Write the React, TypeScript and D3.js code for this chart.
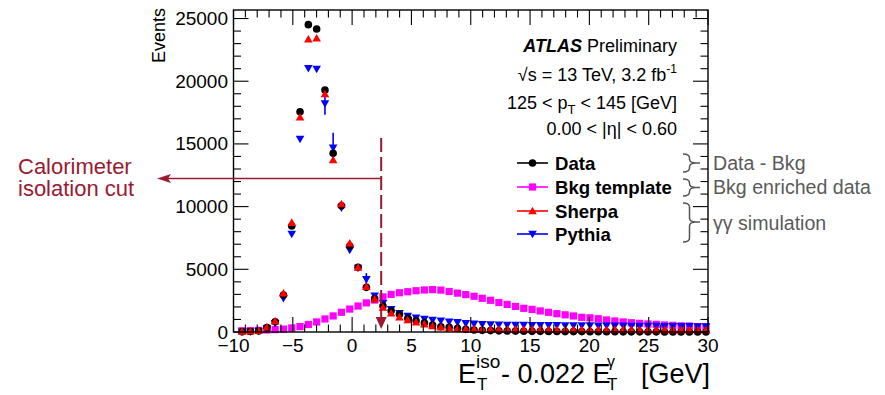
import React from "react";
import * as d3 from "d3";

// ---------- data ----------
const binCenters = [
  -9.28, -8.58, -7.88, -7.18, -6.49, -5.79, -5.09, -4.39, -3.69, -2.99,
  -2.29, -1.6, -0.9, -0.2, 0.5, 1.2, 1.9, 2.6, 3.29, 3.99,
  4.69, 5.39, 6.09, 6.78, 7.48, 8.18, 8.88, 9.58, 10.28, 10.97,
  11.67, 12.37, 13.07, 13.77, 14.47, 15.17, 15.86, 16.56, 17.26, 17.96,
  18.66, 19.36, 20.05, 20.75, 21.45, 22.15, 22.85, 23.54, 24.24, 24.94,
  25.64, 26.34, 27.04, 27.73, 28.43, 29.13, 29.83,
];

const dataValues = [
  20, 40, 80, 350, 820, 2950, 8450, 17570, 24510, 24160,
  19300, 14250, 10070, 6860, 5160, 3560, 2650, 2070, 1700, 1410,
  1090, 900, 740, 560, 420, 370, 290, 210, 160, 130,
  110, 90, 80, 70, 60, 50, 50, 40, 40, 30,
  30, 30, 20, 20, 20, 20, 10, 10, 10, 10,
  10, 0, 0, 0, 0, 0, 0,
];

const bkgValues = [
  100, 110, 130, 160, 190, 230, 320, 430, 600, 800,
  1040, 1280, 1570, 1830, 2070, 2320, 2550, 2800, 3000, 3130,
  3210, 3290, 3350, 3380, 3340, 3230, 3100, 2980, 2850, 2690,
  2530, 2350, 2200, 2040, 1890, 1800, 1680, 1570, 1460, 1370,
  1280, 1170, 1130, 1060, 960, 880, 800, 740, 690, 640,
  610, 560, 530, 490, 480, 430, 420,
];

const sherpaValues = [
  30, 50, 100, 380, 850, 3080, 8720, 17120, 23340, 23420,
  18980, 13720, 10200, 7070, 5150, 3610, 2600, 1950, 1490, 1170,
  960, 770, 610, 480, 370, 320, 260, 220, 210, 210,
  200, 200, 200, 200, 190, 190, 190, 190, 180, 180,
  180, 180, 180, 170, 170, 170, 170, 170, 160, 160,
  160, 160, 160, 160, 150, 150, 150,
];

const pythiaValues = [
  20, 40, 90, 300, 700, 2690, 7810, 15390, 21030, 20970,
  18230, 14700, 9910, 6540, 5100, 4200, 2900, 2290, 1810, 1490,
  1280, 1140, 1040, 960, 900, 820, 770, 690, 650, 620,
  600, 580, 570, 560, 560, 550, 550, 540, 540, 530,
  530, 520, 520, 510, 510, 500, 500, 490, 490, 480,
  480, 470, 470, 460, 460, 450, 450,
];

// Pythia statistical errors (only the visibly large ones)
const pythiaErrBins = [10, 11, 15];
const pythiaErrValues = [900, 1200, 500];

const xTicks = [-10, -5, 0, 5, 10, 15, 20, 25, 30];
const xTickLabels = ["\u221210", "\u22125", "0", "5", "10", "15", "20", "25", "30"];
const yTicks = [0, 5000, 10000, 15000, 20000, 25000];
const yTickLabels = ["0", "5000", "10000", "15000", "20000", "25000"];

const legendLabels = ["Data", "Bkg template", "Sherpa", "Pythia"];
const legendColors = ["#000000", "#ff00ff", "#ff0000", "#0000ff"];
const legendMarkers = ["circle", "square", "up", "down"];

const groupLabels = ["Data - Bkg", "Bkg enriched data", "\u03b3\u03b3 simulation"];

const cutValue = 2.45;

// ---------- layout ----------
const W = 885;
const H = 395;
const L = 233.5;
const R = 708;
const T = 10;
const B = 332;
const FONT = "'Liberation Sans', Arial, Helvetica, sans-serif";
const CUT_COLOR = "#9a1a32";

const x = d3.scaleLinear().domain([-10, 30]).range([L, R]);
const y = d3.scaleLinear().domain([0, 25680]).range([B, T]);

function Marker({ type, cx, cy, color }: { type: string; cx: number; cy: number; color: string }) {
  if (type === "circle") return <circle cx={cx} cy={cy} r={3.8} fill={color} />;
  if (type === "square") return <rect x={cx - 3.6} y={cy - 3.6} width={7.2} height={7.2} fill={color} />;
  const s = 4.3;
  if (type === "up") {
    return <path d={`M${cx},${cy - s}L${cx + s},${cy + s * 0.75}L${cx - s},${cy + s * 0.75}Z`} fill={color} />;
  }
  return <path d={`M${cx},${cy + s}L${cx + s},${cy - s * 0.75}L${cx - s},${cy - s * 0.75}Z`} fill={color} />;
}

function bracePath(x0: number, y1: number, y2: number, ym: number, w: number) {
  const xm = x0 + w / 2;
  const r = Math.min(4, (y2 - y1) / 4);
  return `M${x0},${y1} Q${xm},${y1} ${xm},${y1 + r} L${xm},${ym - r} Q${xm},${ym} ${x0 + w},${ym} Q${xm},${ym} ${xm},${ym + r} L${xm},${y2 - r} Q${xm},${y2} ${x0},${y2} M${x0 + w},${ym} L${x0 + w + 4},${ym}`;
}

export default function App() {
  const minorX = d3.range(-10, 31, 1);
  const minorY = d3.range(0, 25001, 1000);

  const legendRows = [163, 187, 211, 234];
  const braces = [
    { y1: 154, y2: 172, ym: 163 },
    { y1: 179, y2: 196, ym: 187.5 },
    { y1: 203, y2: 242, ym: 222 },
  ];
  const groupBaselines = [170, 194, 229.5];

  const cutX = x(cutValue);

  return (
    <svg
      width={W}
      height={H}
      viewBox={`0 0 ${W} ${H}`}
      style={{ position: "fixed", left: 0, top: 0, background: "#fff" }}
      fontFamily={FONT}
    >
      <rect x={0} y={0} width={W} height={H} fill="#fff" />

      {/* background template */}
      {binCenters.map((c, i) => (
        <Marker key={"b" + i} type="square" cx={x(c)} cy={y(bkgValues[i])} color="#ff00ff" />
      ))}

      {/* Pythia error bars */}
      {pythiaErrBins.map((k, i) => (
        <line
          key={"pe" + i}
          x1={x(binCenters[k])}
          x2={x(binCenters[k])}
          y1={y(pythiaValues[k] - pythiaErrValues[i])}
          y2={y(pythiaValues[k] + pythiaErrValues[i])}
          stroke="#0000ff"
          strokeWidth={1.6}
        />
      ))}
      {/* Pythia */}
      {binCenters.map((c, i) => (
        <Marker key={"p" + i} type="down" cx={x(c)} cy={y(pythiaValues[i])} color="#0000ff" />
      ))}
      {/* Data */}
      {binCenters.map((c, i) => (
        <Marker key={"d" + i} type="circle" cx={x(c)} cy={y(dataValues[i])} color="#000000" />
      ))}
      {/* Sherpa */}
      {binCenters.map((c, i) => (
        <Marker key={"s" + i} type="up" cx={x(c)} cy={y(sherpaValues[i])} color="#ff0000" />
      ))}

      {/* frame */}
      <rect x={L} y={T} width={R - L} height={B - T} fill="none" stroke="#000" strokeWidth={1.4} />

      {/* x ticks */}
      {minorX.map((v) => {
        const major = v % 5 === 0;
        const len = major ? 15 : 7.5;
        return (
          <g key={"xt" + v}>
            <line x1={x(v)} x2={x(v)} y1={B} y2={B - len} stroke="#000" strokeWidth={1.1} />
            <line x1={x(v)} x2={x(v)} y1={T} y2={T + len} stroke="#000" strokeWidth={1.1} />
          </g>
        );
      })}
      {/* y ticks */}
      {minorY.map((v) => {
        const major = v % 5000 === 0;
        const len = major ? 15 : 7.5;
        return (
          <g key={"yt" + v}>
            <line x1={L} x2={L + len} y1={y(v)} y2={y(v)} stroke="#000" strokeWidth={1.1} />
            <line x1={R} x2={R - len} y1={y(v)} y2={y(v)} stroke="#000" strokeWidth={1.1} />
          </g>
        );
      })}
      {/* tick labels */}
      {xTicks.map((v, i) => (
        <text key={"xl" + v} x={x(v)} y={352} fontSize={19} textAnchor="middle" fill="#000">
          {xTickLabels[i]}
        </text>
      ))}
      {yTicks.map((v, i) => (
        <text key={"yl" + v} x={228} y={y(v) + 6.5} fontSize={19} textAnchor="end" fill="#000">
          {yTickLabels[i]}
        </text>
      ))}

      {/* y title */}
      <text transform="translate(165,8) rotate(-90)" fontSize={18} textAnchor="end" fill="#000">
        Events
      </text>

      {/* x title */}
      <g fill="#000">
        <text x={458} y={383} fontSize={27}>E</text>
        <text x={476} y={368} fontSize={19}>iso</text>
        <text x={477} y={390} fontSize={17}>T</text>
        <text x={501} y={383} fontSize={27}>- 0.022 E</text>
        <text x={607} y={367} fontSize={16}>{"\u03b3"}</text>
        <text x={607} y={390} fontSize={17}>T</text>
        <text x={710} y={383} fontSize={27} textAnchor="end">[GeV]</text>
      </g>

      {/* ATLAS label block */}
      <g fill="#000" fontSize={18}>
        <text x={677} y={52} textAnchor="end">
          <tspan fontWeight="bold" fontStyle="italic">ATLAS</tspan>
          <tspan> Preliminary</tspan>
        </text>
        <text x={677} y={81} textAnchor="end">
          <tspan>{"\u221as = 13 TeV, 3.2 fb"}</tspan>
          <tspan fontSize={12} dy={-8}>-1</tspan>
        </text>
        <text x={677} y={109} textAnchor="end">
          <tspan>125 &lt; p</tspan>
          <tspan fontSize={13} dy={5}>T</tspan>
          <tspan dy={-5}> &lt; 145 [GeV]</tspan>
        </text>
        <text x={677} y={135} textAnchor="end">
          {"0.00 < |\u03b7| < 0.60"}
        </text>
      </g>

      {/* legend */}
      {legendLabels.map((lab, i) => (
        <g key={"lg" + i}>
          <line x1={517} x2={548} y1={legendRows[i]} y2={legendRows[i]} stroke={legendColors[i]} strokeWidth={1.6} />
          <Marker type={legendMarkers[i]} cx={532.5} cy={legendRows[i]} color={legendColors[i]} />
          <text x={555} y={legendRows[i] + 6.5} fontSize={18.6} fontWeight="bold" fill="#000">
            {lab}
          </text>
        </g>
      ))}

      {/* braces and group labels */}
      {braces.map((b, i) => (
        <path
          key={"br" + i}
          d={bracePath(683, b.y1, b.y2, b.ym, 13)}
          fill="none"
          stroke="#555"
          strokeWidth={1.5}
        />
      ))}
      {groupLabels.map((g, i) => (
        <text key={"gl" + i} x={713} y={groupBaselines[i]} fontSize={19.6} fill="#5a5a5a">
          {g}
        </text>
      ))}

      {/* isolation cut annotation */}
      <line x1={cutX} x2={cutX} y1={138} y2={318} stroke={CUT_COLOR} strokeWidth={2} strokeDasharray="14,5" />
      <path d={`M${cutX - 5.5},${317} L${cutX + 5.5},${317} L${cutX},${329} Z`} fill={CUT_COLOR} />
      <line x1={cutX} x2={168} y1={178.5} y2={178.5} stroke={CUT_COLOR} strokeWidth={1.5} />
      <path d={`M${157},${178.5} L${171},${174} L${168},${178.5} L${171},${183} Z`} fill={CUT_COLOR} />
      <g fill={CUT_COLOR} fontSize={22}>
        <text x={18} y={174}>Calorimeter</text>
        <text x={18} y={196}>isolation cut</text>
      </g>
    </svg>
  );
}
